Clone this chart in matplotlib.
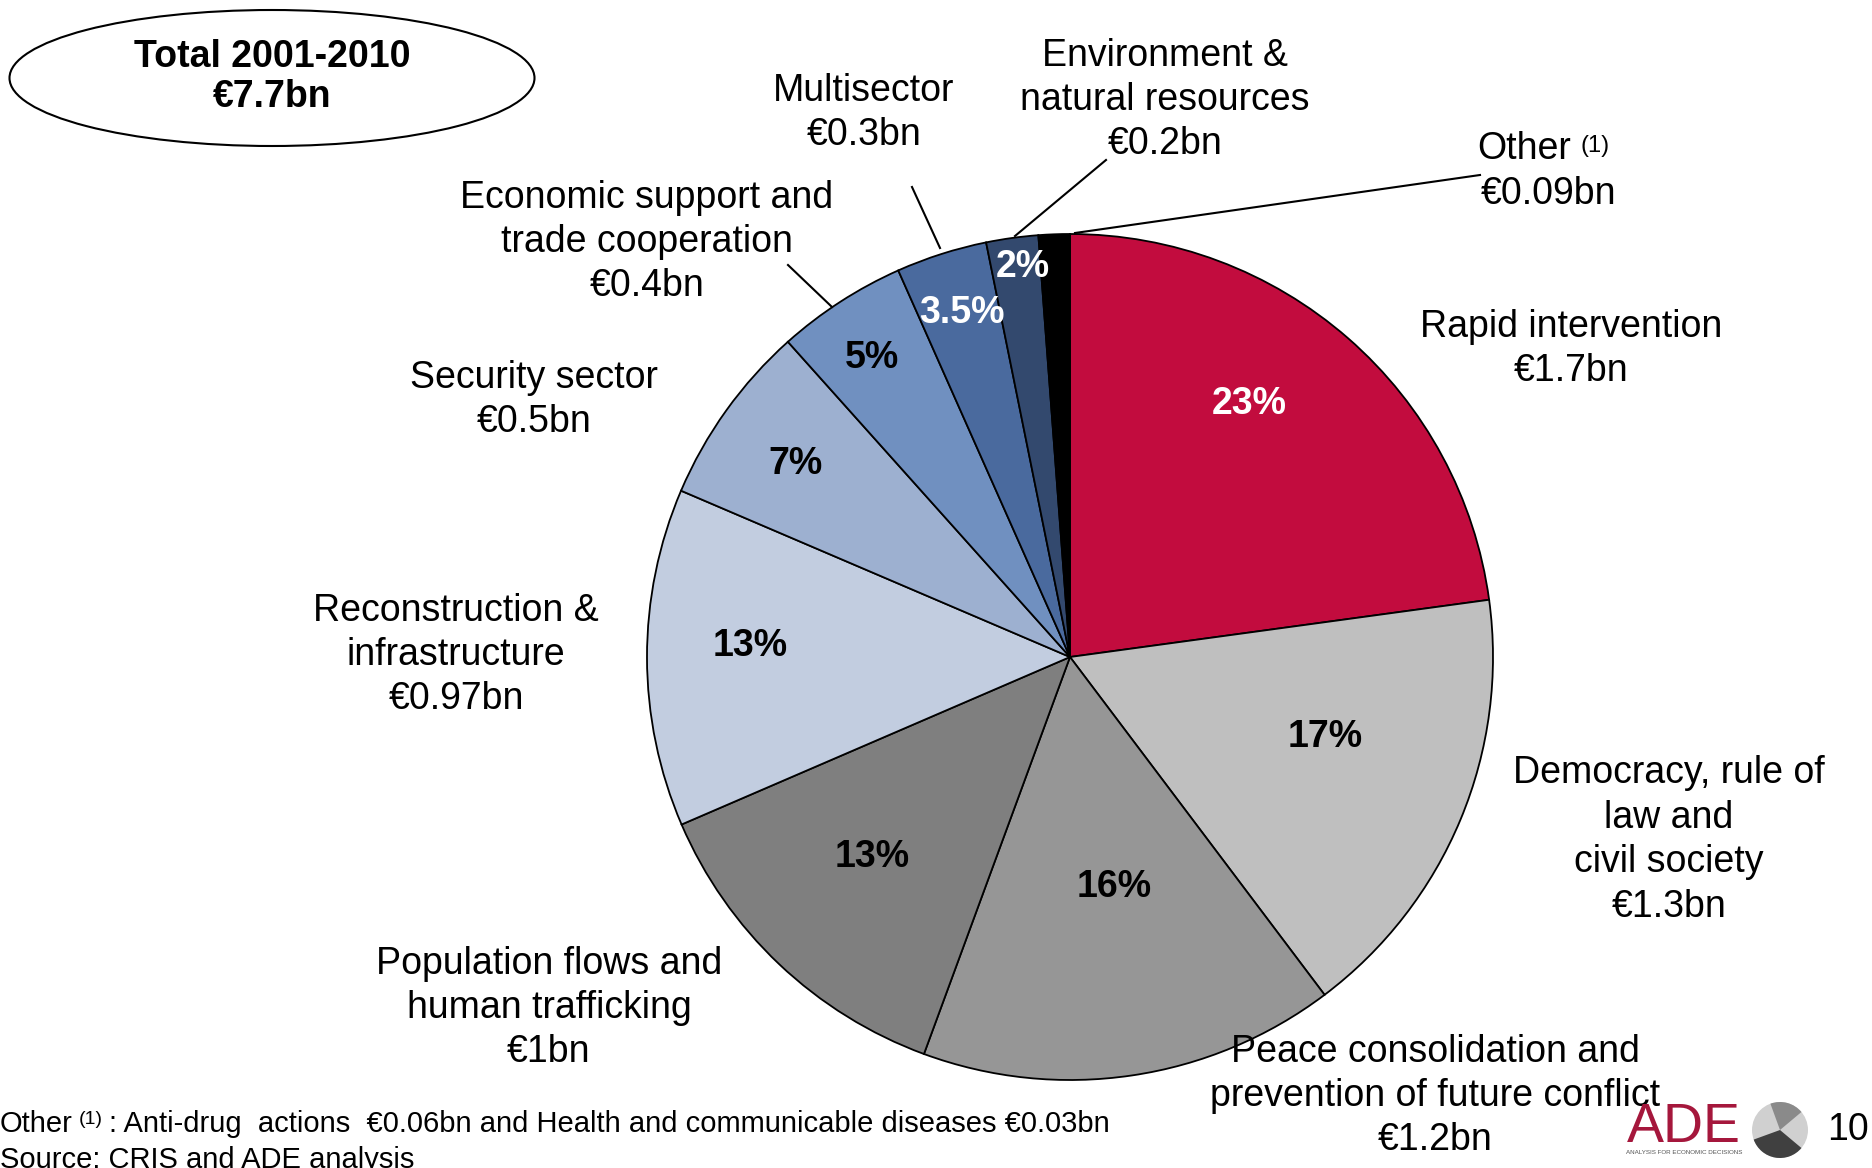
import matplotlib
matplotlib.use("Agg")
import matplotlib.pyplot as plt
from matplotlib.patches import Ellipse, Circle, Wedge

plt.rcParams['font.family'] = ['Liberation Sans', 'DejaVu Sans']

# data (shares in %, clockwise from 12 o'clock)
sectors = ["Rapid intervention", "Democracy, rule of\nlaw and\ncivil society",
           "Peace consolidation and\nprevention of future conflict",
           "Population flows and\nhuman trafficking", "Reconstruction &\ninfrastructure",
           "Security sector", "Economic support and\ntrade cooperation", "Multisector",
           "Environment &\nnatural resources", "Other"]
amounts = ["€1.7bn", "€1.3bn", "€1.2bn", "€1bn", "€0.97bn", "€0.5bn", "€0.4bn",
           "€0.3bn", "€0.2bn", "€0.09bn"]
shares = [23, 17, 16, 13, 13, 7, 5, 3.5, 2, 1.2]
pct_labels = ["23%", "17%", "16%", "13%", "13%", "7%", "5%", "3.5%", "2%", ""]
colors = ["#C20C3E", "#BFBFBF", "#969696", "#7F7F7F", "#C2CDE0", "#9DB0D0",
          "#7090C0", "#4A6A9E", "#33496E", "#000000"]
pct_colors = ["white", "black", "black", "black", "black", "black", "black",
              "white", "white", "white"]

W, H = 1872, 1168
fig = plt.figure(figsize=(W / 100, H / 100), dpi=100)
ax = fig.add_axes([0, 0, 1, 1])


def Y(y):
    # image pixel row -> axes y
    return H - y


wedges, _ = ax.pie(shares, colors=colors, startangle=90, counterclock=False,
                   center=(1070, Y(657)), radius=423,
                   wedgeprops=dict(edgecolor="black", linewidth=1.3))
ax.set_xlim(0, W)
ax.set_ylim(0, H)
ax.set_aspect("equal")
ax.axis("off")

fs = 27

# percentage labels inside slices
pct_pos = [(1249, 404), (1325, 737), (1114, 887), (872, 857), (750, 646),
           (795, 464), (872, 358), (962, 313), (1023, 267), None]
for lab, c, p in zip(pct_labels, pct_colors, pct_pos):
    if p is None:
        continue
    ax.text(p[0], Y(p[1]), lab, color=c, fontsize=fs, fontweight="bold",
            ha="center", va="center")

# category labels
lab_pos = [(1571, 349), (1669, 840), (1435, 1096), (549, 1008), (456, 655),
           (534, 400), (647, 242), (864, 113), (1165, 100)]
for name, amt, p in zip(sectors[:-1], amounts[:-1], lab_pos):
    ax.text(p[0], Y(p[1]), name + "\n" + amt, fontsize=fs, ha="center",
            va="center", linespacing=1.3)

# "Other (1)" label
t_other = ax.text(1477, Y(149), sectors[-1], fontsize=fs, ha="left", va="center")
ax.annotate("(1)", xy=(1, 1), xycoords=t_other, xytext=(7, -3),
            textcoords="offset points", fontsize=17, ha="left", va="top")
ax.text(1549, Y(194), amounts[-1], fontsize=fs, ha="center", va="center")

# leader lines
leaders = [((788, 265), (832, 307)), ((912, 187), (940, 248)),
           ((1106, 160), (1015, 236)), ((1480, 175), (1075, 233))]
for (x0, y0), (x1, y1) in leaders:
    ax.plot([x0, x1], [Y(y0), Y(y1)], color="black", lw=1.5)

# total ellipse
ax.add_patch(Ellipse((272, Y(78)), 525, 136, facecolor="white",
                     edgecolor="black", lw=1.5))
ax.text(272, Y(77), "Total 2001-2010\n€7.7bn", fontsize=fs, fontweight="bold",
        ha="center", va="center", linespacing=1.15)

# footnote and source
t1 = ax.text(0, Y(1124), "Other", fontsize=21, ha="left", va="center")
ax.annotate("(1)", xy=(1, 1), xycoords=t1, xytext=(4, -1),
            textcoords="offset points", fontsize=14, ha="left", va="top")
ax.annotate(": Anti-drug  actions  €0.06bn and Health and communicable diseases €0.03bn",
            xy=(1, 0), xycoords=t1, xytext=(26, 0), textcoords="offset points",
            fontsize=21, ha="left", va="bottom")
ax.text(0, Y(1146), "Source: CRIS and ADE analysis", fontsize=21, ha="left", va="top")

# logo and page number
ax.text(1684, Y(1128), "ADE", fontsize=40, color="#A5173C", ha="center",
        va="center")
ax.text(1684, Y(1152), "ANALYSIS FOR ECONOMIC DECISIONS", fontsize=4.5,
        color="#555555", ha="center", va="center")
ax.add_patch(Circle((1780, Y(1130)), 28, facecolor="#D0D0D0", edgecolor="none"))
ax.add_patch(Wedge((1780, Y(1130)), 28, 200, 320, facecolor="#404040", edgecolor="none"))
ax.add_patch(Wedge((1780, Y(1130)), 28, 40, 110, facecolor="#8A8A8A", edgecolor="none"))
ax.text(1848, Y(1130), "10", fontsize=fs, ha="center", va="center")

fig.savefig("out.png", dpi=100)
